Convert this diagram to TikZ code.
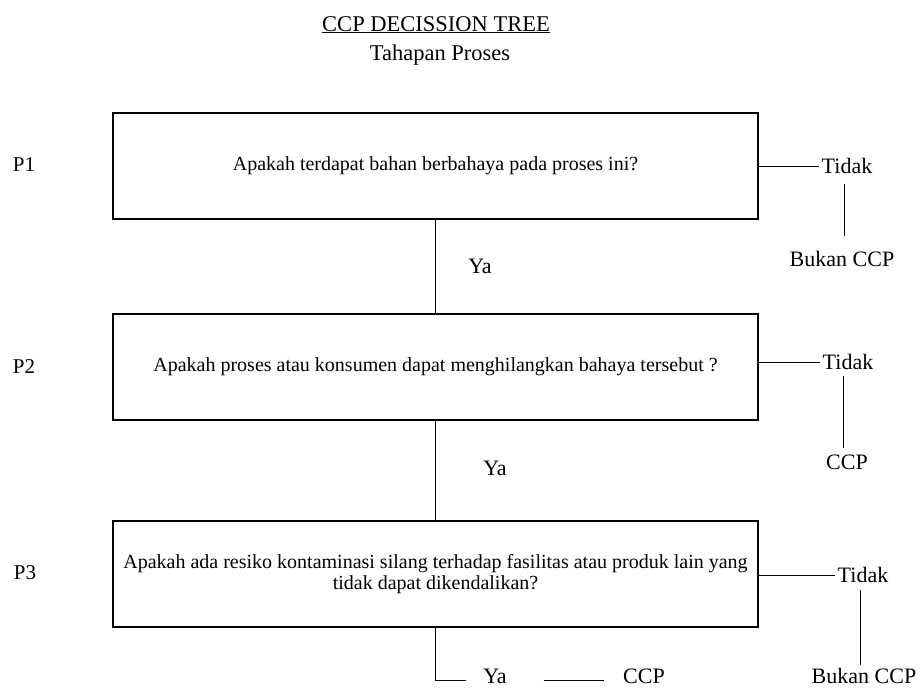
\documentclass[tikz,border=0pt]{standalone}
\usepackage{fontspec}
\setmainfont{Liberation Serif}
\usetikzlibrary{positioning}

\tikzset{
  qbox/.style={draw, line width=1.1pt, minimum width=645pt, minimum height=106pt,
    align=center, font=\fontsize{20}{21}\selectfont},
  lbl/.style={inner sep=1pt, font=\fontsize{22}{24}\selectfont},
  conn/.style={line width=0.9pt}
}

\begin{document}
\begin{tikzpicture}[x=1pt, y=-1pt]
      \useasboundingbox[fill=white] (0, 0) rectangle (922, 689);

      \node[lbl, anchor=base, font=\fontsize{22.5}{24}\selectfont] (title) at (436, 31) {\underline{CCP DECISSION TREE}};
      \node[lbl, anchor=base, font=\fontsize{22.5}{24}\selectfont] (stage) at (440, 60) {Tahapan Proses};

      \node[qbox] (q1) at (435.5, 166) {Apakah terdapat bahan berbahaya pada proses ini?};
      \node[qbox] (q2) at (435.5, 367) {Apakah proses atau konsumen dapat menghilangkan bahaya tersebut ?};
      \node[qbox] (q3) at (435.5, 574) {Apakah ada resiko kontaminasi silang terhadap fasilitas atau produk lain yang\\ tidak dapat dikendalikan?};

      \node[lbl, font=\fontsize{21}{24}\selectfont] (p1) at (24, 165) {P1};
      \node[lbl, font=\fontsize{21}{24}\selectfont] (p2) at (24, 367) {P2};
      \node[lbl, font=\fontsize{21}{24}\selectfont] (p3) at (25, 573) {P3};

      \node[lbl] (ya1) at (480, 266) {Ya};
      \node[lbl] (ya2) at (495, 468) {Ya};
      \node[lbl] (ya3) at (495, 676) {Ya};
      \node[lbl] (ccp3) at (644, 676) {CCP};

      \node[lbl] (no1) at (847, 166) {Tidak};
      \node[lbl] (no2) at (848, 362) {Tidak};
      \node[lbl] (no3) at (863, 575) {Tidak};
      \node[lbl] (res1) at (842, 259) {Bukan CCP};
      \node[lbl] (res2) at (847, 462) {CCP};
      \node[lbl] (res3) at (864, 676) {Bukan CCP};

      \draw[conn] (q1.south) -- (q2.north);
      \draw[conn] (q2.south) -- (q3.north);
      \draw[conn, shorten >=16pt] (q3.south) |- ([yshift=-4pt]ya3.west);
      \draw[conn, shorten <=36pt, shorten >=18pt] ([yshift=-4pt]ya3.east) -- ([yshift=-4pt]ccp3.west);

      \draw[conn, shorten >=2pt] (q1.east) -- (no1.west);
      \draw[conn, shorten >=2pt] (q2.east |- no2) -- (no2.west);
      \draw[conn, shorten >=2pt] (q3.east |- no3) -- (no3.west);

      \draw[conn, shorten <=9pt, shorten >=14pt] ([xshift=-3pt]no1.south) -- ([xshift=-3pt]no1.south |- res1.north);
      \draw[conn, shorten <=5pt, shorten >=5pt] ([xshift=-5pt]no2.south) -- ([xshift=-5pt]no2.south |- res2.north);
      \draw[conn, shorten <=6pt, shorten >=2pt] ([xshift=-3pt]no3.south) -- ([xshift=-3pt]no3.south |- res3.north);
    \end{tikzpicture}
\end{document}
